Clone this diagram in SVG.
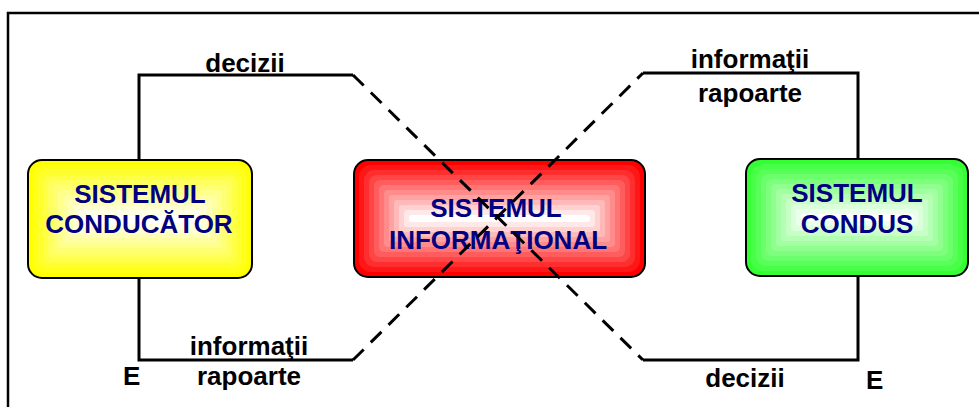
<svg xmlns="http://www.w3.org/2000/svg" width="979" height="407" viewBox="0 0 979 407">
<style>
.frame{fill:none;stroke:#000;stroke-width:2.5}
.line{fill:none;stroke:#000;stroke-width:3;stroke-linejoin:miter;stroke-linecap:butt}
.dash{fill:none;stroke:#000;stroke-width:3;stroke-dasharray:15 10}
.border{fill:none;stroke:#000;stroke-width:2}
.box{font-family:"Liberation Sans",Arial,sans-serif;font-weight:bold;font-size:26px;fill:#000080;text-anchor:middle}
.lbl{font-family:"Liberation Sans",Arial,sans-serif;font-weight:bold;font-size:26px;fill:#000;text-anchor:middle}
.e{font-family:"Liberation Sans",Arial,sans-serif;font-weight:bold;font-size:26px;fill:#000}
</style>
<rect width="979" height="407" fill="#fff"/>
<path class="frame" d="M8,407 V13 H979"/>

<g id="sistemul-conducator">
<rect x="28" y="160" width="224" height="118" rx="14" fill="#ffff00"/>
<rect x="33" y="165" width="214" height="108" rx="12" fill="#ffff17"/>
<rect x="38" y="170" width="204" height="98" rx="10" fill="#ffff2e"/>
<rect x="43" y="175" width="194" height="88" rx="8" fill="#ffff46"/>
<rect x="48" y="180" width="184" height="78" rx="6" fill="#ffff5d"/>
<rect x="53" y="185" width="174" height="68" rx="5" fill="#ffff74"/>
<rect x="58" y="190" width="164" height="58" rx="4" fill="#ffff8b"/>
<rect x="63" y="195" width="154" height="48" rx="3" fill="#ffffa2"/>
<rect x="68" y="200" width="144" height="38" rx="3" fill="#ffffb9"/>
<rect x="73" y="205" width="134" height="28" rx="3" fill="#ffffd1"/>
<rect x="78" y="210" width="124" height="18" rx="3" fill="#ffffe8"/>
<rect x="83" y="215" width="114" height="8" rx="3" fill="#ffffff"/>
<rect class="border" x="28" y="160" width="224" height="118" rx="14"/>
<text class="box" x="140" y="203">SISTEMUL</text>
<text class="box" x="139" y="233">CONDUCĂTOR</text>
</g>

<g id="sistemul-informational">
<rect x="354" y="160" width="291" height="117" rx="14" fill="#ff0000"/>
<rect x="359" y="165" width="281" height="107" rx="12" fill="#ff1717"/>
<rect x="364" y="170" width="271" height="97" rx="10" fill="#ff2e2e"/>
<rect x="369" y="175" width="261" height="87" rx="8" fill="#ff4646"/>
<rect x="374" y="180" width="251" height="77" rx="6" fill="#ff5d5d"/>
<rect x="379" y="185" width="241" height="67" rx="5" fill="#ff7474"/>
<rect x="384" y="190" width="231" height="57" rx="4" fill="#ff8b8b"/>
<rect x="389" y="195" width="221" height="47" rx="3" fill="#ffa2a2"/>
<rect x="394" y="200" width="211" height="37" rx="3" fill="#ffb9b9"/>
<rect x="399" y="205" width="201" height="27" rx="3" fill="#ffd1d1"/>
<rect x="404" y="210" width="191" height="17" rx="3" fill="#ffe8e8"/>
<rect x="409" y="215" width="181" height="7" rx="3" fill="#ffffff"/>
<rect class="border" x="354" y="160" width="291" height="117" rx="14"/>
<text class="box" x="496" y="217">SISTEMUL</text>
<text class="box" x="498" y="249">INFORMAŢIONAL</text>
</g>

<g id="sistemul-condus">
<rect x="746" y="159" width="222" height="117" rx="14" fill="#33ff33"/>
<rect x="751" y="164" width="212" height="107" rx="12" fill="#46ff46"/>
<rect x="756" y="169" width="202" height="97" rx="10" fill="#58ff58"/>
<rect x="761" y="174" width="192" height="87" rx="8" fill="#6bff6b"/>
<rect x="766" y="179" width="182" height="77" rx="6" fill="#7dff7d"/>
<rect x="771" y="184" width="172" height="67" rx="5" fill="#90ff90"/>
<rect x="776" y="189" width="162" height="57" rx="4" fill="#a2ffa2"/>
<rect x="781" y="194" width="152" height="47" rx="3" fill="#b5ffb5"/>
<rect x="786" y="199" width="142" height="37" rx="3" fill="#c7ffc7"/>
<rect x="791" y="204" width="132" height="27" rx="3" fill="#daffda"/>
<rect x="796" y="209" width="122" height="17" rx="3" fill="#ecffec"/>
<rect x="801" y="214" width="112" height="7" rx="3" fill="#ffffff"/>
<rect class="border" x="746" y="159" width="222" height="117" rx="14"/>
<text class="box" x="857" y="202">SISTEMUL</text>
<text class="box" x="857" y="233">CONDUS</text>
</g>

<g id="connectors">
<path class="line" d="M139,160 V75 H353"/>
<path class="line" d="M139,277 V360 H353"/>
<path class="line" d="M858,159 V73 H643"/>
<path class="line" d="M858,276 V360 H643"/>
<path class="dash" d="M353,75 L643,360"/>
<path class="dash" d="M353,360 L643,73"/>
</g>

<g id="labels">
<text class="lbl" x="245" y="72">decizii</text>
<text class="lbl" x="750" y="68">informaţii</text>
<text class="lbl" x="750" y="102">rapoarte</text>
<text class="lbl" x="249" y="355">informaţii</text>
<text class="lbl" x="249" y="385">rapoarte</text>
<text class="lbl" x="745" y="387">decizii</text>
<text class="e" x="123" y="385">E</text>
<text class="e" x="866" y="389">E</text>
</g>
</svg>
